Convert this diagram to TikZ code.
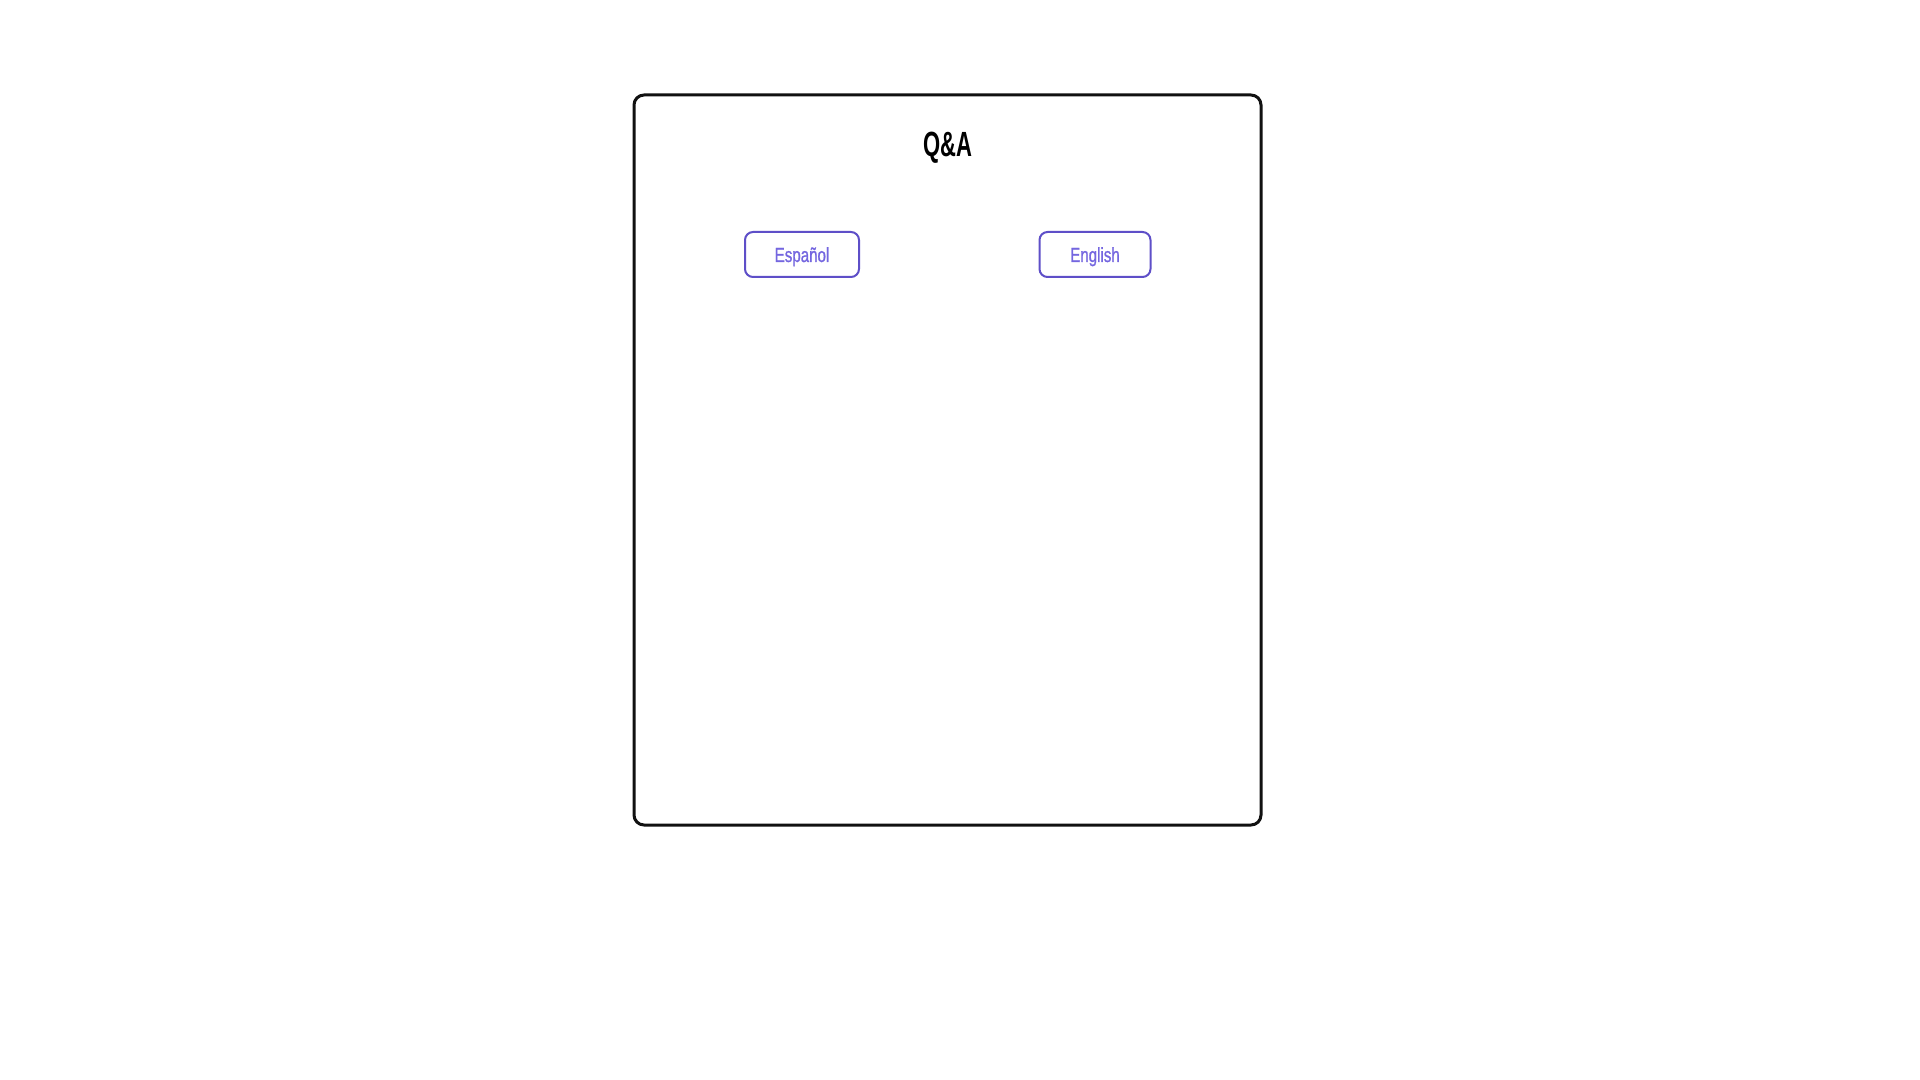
\documentclass[tikz,border=0pt]{standalone}
\usepackage{fontspec}
\setmainfont{Liberation Sans}
\newfontfamily\titlefont{Liberation Sans}[FakeStretch=0.63]
\newfontfamily\btnfont{Liberation Sans}[FakeStretch=0.74,FakeBold=1]
\definecolor{frameblack}{HTML}{111111}
\definecolor{btnborder}{HTML}{5E4FC8}
\definecolor{btntext}{HTML}{7466E0}
\tikzset{
  px/.style={x=0.5pt,y=-0.5pt},
  panel/.style={draw=frameblack,line width=1.5pt,rounded corners=5pt},
  btn/.style={draw=btnborder,line width=1pt,rounded corners=4pt,fill=white,
    minimum height=22.5pt,inner sep=0pt,text height=9pt,text depth=1.5pt,
    text=btntext,font=\btnfont\fontsize{10.2pt}{12pt}\selectfont},
  titletext/.style={anchor=base,inner sep=0pt,font=\titlefont\bfseries\fontsize{17.5pt}{20pt}\selectfont}
}
\begin{document}
\begin{tikzpicture}[px]
\useasboundingbox[fill=white] (0,0) rectangle (1920,1080);
\draw[panel] (634,95) rectangle (1261,825);
\node[titletext] (title) at (947.5,157) {Q\&A};
\node[btn,minimum width=57pt] (es) at (802,254.5) {Español};
\node[btn,minimum width=55.5pt] (en) at (1095,254.5) {English};
\end{tikzpicture}
\end{document}
